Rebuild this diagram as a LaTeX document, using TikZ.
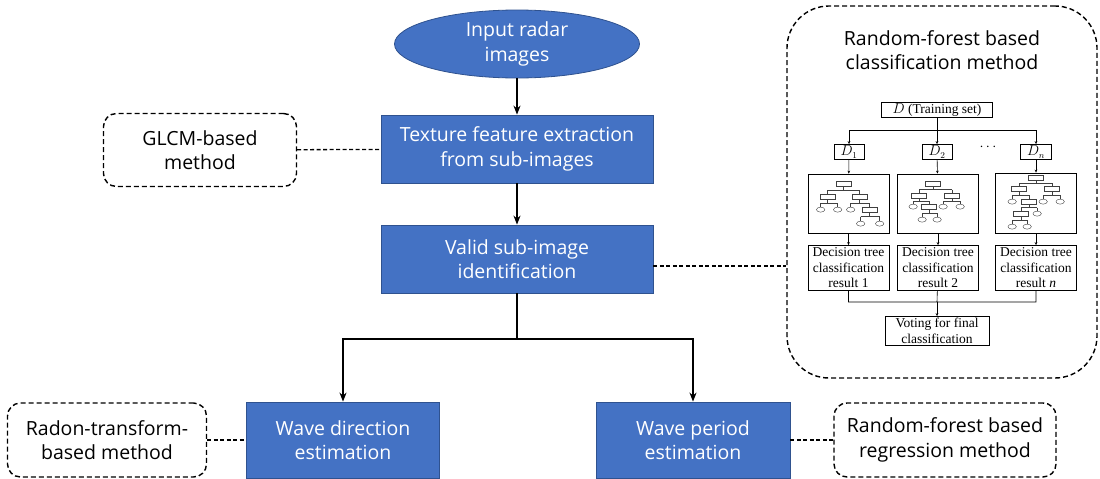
\documentclass[tikz,border=0pt]{standalone}
\usepackage{fontspec}
\setmainfont{Open Sans}
\newfontfamily\rffont{Liberation Serif}
\usetikzlibrary{shapes.geometric,arrows.meta}
\definecolor{boxblue}{HTML}{4472C4}
\definecolor{boxedge}{HTML}{2F528F}
\newcommand{\mainsize}{\fontsize{19.5}{24.5}\selectfont}
\newcommand{\rfsize}{\rffont\fontsize{13.5}{15.5}\selectfont}
% little decision trees
\newcommand{\trect}[2]{\draw[treeline] (#1-7.5,#2-2.5) rectangle (#1+7.5,#2+2.5);}
\newcommand{\tleaf}[2]{\draw[treeline] (#1,#2) ellipse[x radius=4.2,y radius=2.5];}
\newcommand{\tfork}[5]{\draw[treeline] (#1,#2+2.5) -- (#1,{(#2+#5)/2}) (#3,{(#2+#5)/2}) -- (#4,{(#2+#5)/2})
  (#3,{(#2+#5)/2}) -- (#3,#5-2.5) (#4,{(#2+#5)/2}) -- (#4,#5-2.5);}
\tikzset{
  startnode/.style={ellipse,fill=boxblue,draw=boxedge,line width=0.8pt,text=white,
    minimum width=245,minimum height=68,inner sep=0pt,align=center,font=\mainsize},
  procbox/.style={rectangle,fill=boxblue,draw=boxedge,line width=0.8pt,text=white,
    minimum width=272,minimum height=68,align=center,font=\mainsize},
  methodbox/.style={draw,line width=1.4pt,dash pattern=on 5pt off 3pt,rounded corners=13pt,
    align=center,font=\mainsize},
  groupbox/.style={draw,line width=1.4pt,dash pattern=on 5pt off 3pt,rounded corners=42pt,
    minimum width=310,minimum height=372},
  flowline/.style={line width=2.2pt},
  flow/.style={flowline,-{Stealth[length=9pt,width=7pt]}},
  link/.style={line width=1.3pt,dash pattern=on 4pt off 2.5pt},
  rfbox/.style={draw,line width=0.7pt,inner sep=1pt,font=\rfsize,align=center},
  rfline/.style={line width=0.6pt},
  rfarrow/.style={rfline,-{Stealth[length=3pt,width=2.6pt]}},
  treeline/.style={line width=0.4pt,black!75}
}
\begin{document}
\begin{tikzpicture}[x=1pt,y=-1pt]
\useasboundingbox (0,0) rectangle (1100,479);
% main flow
\node[startnode] (input) at (517,44) {Input radar\\images};
\node[procbox] (texture) at (517,149) {Texture feature extraction\\from sub-images};
\node[procbox] (valid) at (517,259) {Valid sub-image\\identification};
\node[procbox,minimum width=193,minimum height=76] (wdir) at (343,440) {Wave direction\\estimation};
\node[procbox,minimum width=194,minimum height=76] (wper) at (693,440) {Wave period\\estimation};
\coordinate (vsplit) at (517,339);
\draw[flow] (input) -- (texture);
\draw[flow] (texture) -- (valid);
\draw[flowline] (valid) -- (vsplit);
\draw[flow] (vsplit) -| (wdir);
\draw[flow] (vsplit) -| (wper);
% methods
\node[methodbox,minimum width=193,minimum height=73] (glcm) at (200,150) {GLCM-based\\method};
\node[methodbox,minimum width=199,minimum height=74] (radon) at (107,440) {Radon-transform-\\based method};
\node[methodbox,minimum width=222,minimum height=74] (rfreg) at (945,440) {Random-forest based\\regression method};
\node[groupbox] (rfgroup) at (942,192) {};
\node[font=\mainsize,align=center] (rftitle) at (942,50) {Random-forest based\\classification method};
\draw[link] (glcm) -- (texture);
\draw[link] ([yshift=-7pt]valid.east) -- ([yshift=-7pt]valid.east -| rfgroup.west);
\draw[link] (radon) -- (wdir);
\draw[link] (wper) -- (rfreg);
% random forest sketch
\node[rfbox,minimum width=111,minimum height=15] (dset) at (937,110) {$D$ (Training set)};
\node[rfbox,minimum width=30,minimum height=15] (d1) at (849,152) {$D_1$};
\node[rfbox,minimum width=30,minimum height=15] (d2) at (937,152) {$D_2$};
\node[rfbox,minimum width=31,minimum height=15] (dn) at (1036,152) {$D_n$};
\node[font=\rfsize] (dots) at (988,147) {$\cdots$};
\node[rfbox,minimum width=81,minimum height=59] (tree1) at (848.5,203.5) {};
\node[rfbox,minimum width=81,minimum height=59] (tree2) at (938,203.5) {};
\node[rfbox,minimum width=81,minimum height=60] (tree3) at (1036,203) {};
\node[rfbox,minimum width=81,minimum height=45] (res1) at (848.5,268) {Decision tree\\classification\\result 1};
\node[rfbox,minimum width=81,minimum height=45] (res2) at (938,268) {Decision tree\\classification\\result 2};
\node[rfbox,minimum width=81,minimum height=45] (res3) at (1036,268) {Decision tree\\classification\\result \textit{n}};
\node[rfbox,minimum width=104,minimum height=29] (vote) at (937,331) {Voting for final\\classification};
\coordinate (rfsplit) at (937,130);
\coordinate (rfjoin) at (937,302);
\draw[rfline] (dset) -- (rfsplit);
\draw[rfarrow] (rfsplit) -| (d1);
\draw[rfarrow] (rfsplit) -- (d2);
\draw[rfarrow] (rfsplit) -| (dn);
\foreach \d/\t in {d1/1,d2/2,dn/3}
  \draw[rfarrow] (\d) -- (tree\t);
\foreach \t in {1,2,3}
  \draw[rfarrow] (tree\t) -- (res\t);
\draw[rfline] (res1) |- (rfjoin) (res3) |- (rfjoin) (res2) -- (rfjoin);
\draw[rfarrow] (rfjoin) -- (vote);
\begin{scope}[shift={(tree1.north west)}]
  \trect{36}{10} \tfork{36}{10}{20}{52}{23} \trect{20}{23} \trect{52}{23}
  \tfork{20}{23}{13}{30}{36} \tleaf{13}{36} \tleaf{30}{36}
  \tfork{52}{23}{43}{62}{36} \tleaf{43}{36} \trect{62}{36}
  \tfork{62}{36}{53}{72}{50} \tleaf{53}{50} \tleaf{72}{50}
\end{scope}
\begin{scope}[shift={(tree2.north west)}]
  \trect{36}{10} \tfork{36}{10}{22}{55}{22} \trect{22}{22} \trect{55}{22}
  \tfork{22}{22}{16}{32}{33} \tleaf{16}{33} \trect{32}{33}
  \tfork{55}{22}{46}{63}{33} \tleaf{46}{33} \tleaf{63}{33}
  \tfork{32}{33}{25}{40}{46} \tleaf{25}{46} \tleaf{40}{46}
\end{scope}
\begin{scope}[shift={(tree3.north west)}]
  \trect{41}{5} \tfork{41}{5}{24}{57}{16.5} \trect{24}{16.5} \trect{57}{16.5}
  \tfork{24}{16.5}{17}{34}{29} \tleaf{17}{29} \trect{34}{29}
  \tfork{57}{16.5}{48}{65}{29} \tleaf{48}{29} \tleaf{65}{29}
  \tfork{34}{29}{26}{42}{41} \trect{26}{41} \tleaf{42}{41}
  \tfork{26}{41}{17}{32}{54} \tleaf{17}{54} \tleaf{32}{54}
\end{scope}
\end{tikzpicture}
\end{document}
